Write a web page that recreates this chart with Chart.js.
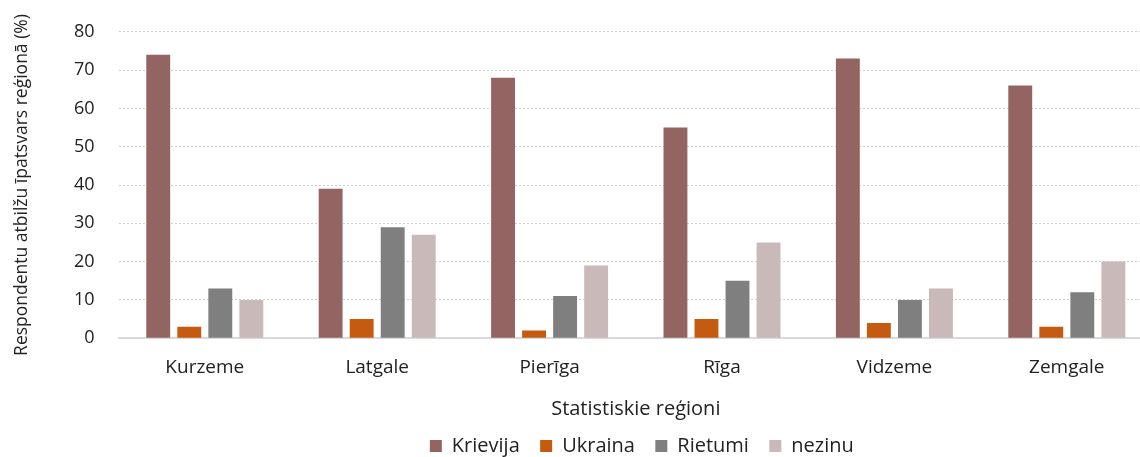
<!DOCTYPE html>
<html>
<head>
<meta charset="utf-8">
<script src="https://cdn.jsdelivr.net/npm/chart.js@4"></script>
<style>
  html, body { margin: 0; padding: 0; background: #fff; overflow: hidden; height: 457px; }
  #wrap { width: 1153px; height: 469px; margin-top: -3px; }
</style>
</head>
<body>
<div id="wrap"><canvas id="chart"></canvas></div>
<script>
const regions = ["Kurzeme", "Latgale", "Pierīga", "Rīga", "Vidzeme", "Zemgale"];
const krievija = [74, 39, 68, 55, 73, 66];
const ukraina = [3, 5, 2, 5, 4, 3];
const rietumi = [13, 29, 11, 15, 10, 12];
const nezinu = [10, 27, 19, 25, 13, 20];

const FONT = "'Open Sans', 'Noto Sans', sans-serif";
const TXT = "#222";

// legend centred under the plot area, not the whole canvas
const legendShift = {
  id: "legendShift",
  afterLayout(chart) {
    const lg = chart.legend;
    const d = (chart.chartArea.left + chart.chartArea.right) / 2 - (lg.left + lg.right) / 2 + 6;
    lg.left += d;
    lg.right += d;
  }
};

const ctx = document.getElementById("chart").getContext("2d");
new Chart(ctx, {
  type: "bar",
  data: {
    labels: regions,
    datasets: [
      { label: "Krievija", data: krievija, backgroundColor: "#936462" },
      { label: "Ukraina", data: ukraina, backgroundColor: "#C55A11" },
      { label: "Rietumi", data: rietumi, backgroundColor: "#7F7F7F" },
      { label: "nezinu", data: nezinu, backgroundColor: "#C9B9B9" }
    ]
  },
  plugins: [legendShift],
  options: {
    responsive: true,
    maintainAspectRatio: false,
    animation: false,
    layout: { padding: { top: 3, left: 8, right: 0, bottom: 0 } },
    datasets: { bar: { barPercentage: 0.77, categoryPercentage: 0.72 } },
    plugins: {
      legend: {
        position: "bottom",
        labels: {
          font: { family: FONT, size: 20 },
          color: TXT,
          boxWidth: 12, boxHeight: 12,
          padding: 10,
          generateLabels(chart) {
            const items = Chart.defaults.plugins.legend.labels.generateLabels(chart);
            items.forEach((it, i) => { if (i < items.length - 1) it.text += "  "; });
            return items;
          }
        }
      },
      tooltip: { enabled: false }
    },
    scales: {
      x: {
        grid: { display: false, drawTicks: false },
        border: { color: "#d9d9d9", width: 2 },
        ticks: { font: { family: FONT, size: 19 }, color: TXT, padding: 18 },
        title: {
          display: true, text: "Statistiskie reģioni",
          font: { family: FONT, size: 20 }, color: TXT, padding: { top: 0, bottom: 5 }
        }
      },
      y: {
        min: 0, max: 80,
        ticks: { stepSize: 10, font: { family: FONT, size: 18 }, color: TXT, padding: 24 },
        grid: { color: "#cfcfcf", lineWidth: 1, drawTicks: false },
        border: { display: false, dash: [2, 2] },
        title: {
          display: true, text: "Respondentu atbilžu īpatsvars reģionā (%)",
          font: { family: FONT, size: 17.5 }, color: TXT, padding: { bottom: 17 }
        }
      }
    }
  }
});
</script>
</body>
</html>
